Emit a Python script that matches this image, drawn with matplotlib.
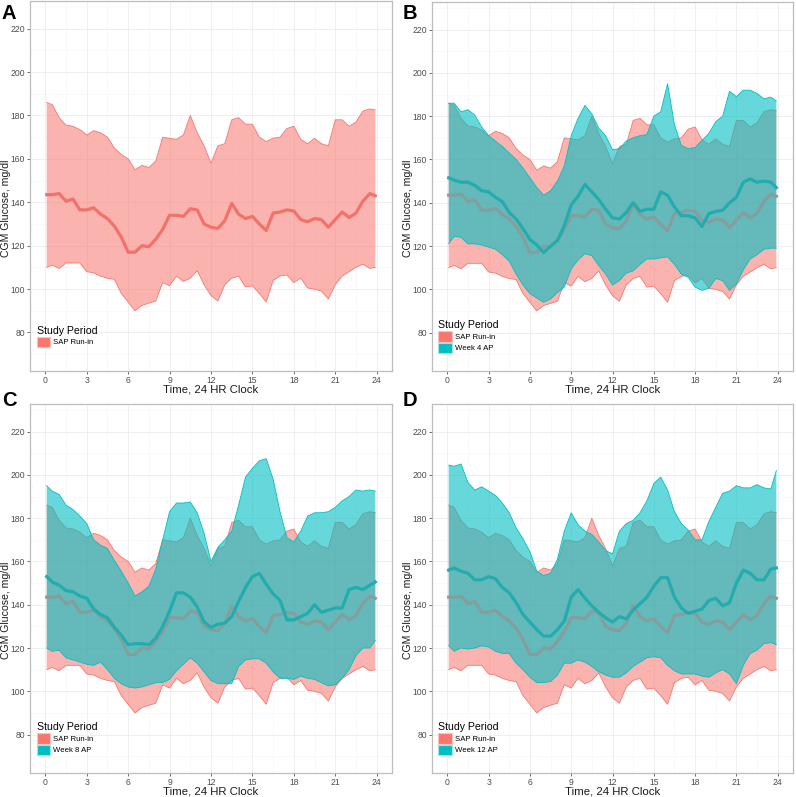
import numpy as np
import matplotlib
matplotlib.use("Agg")
import matplotlib.pyplot as plt
from matplotlib.patches import Patch
from matplotlib.ticker import MultipleLocator

plt.rcParams['font.family'] = ['Liberation Sans', 'DejaVu Sans']

# ---------------- data ----------------
hours = [0.1] + [0.5 * i for i in range(1, 48)] + [23.9]

sap_hi = [186, 185, 179, 175.5, 175, 173.5, 171, 173, 172, 170,
          165, 162, 160, 155, 157, 156, 159, 170, 169.5, 169,
          171, 180, 172, 166, 158, 166, 167, 178, 179, 176,
          176, 170, 168, 169.5, 170, 174, 175, 169, 167, 169.5,
          167, 166, 178, 178, 175, 177, 182, 183, 182.5]
sap_lo = [110, 111, 109.5, 112, 112, 112, 108, 107.5, 106, 105,
          104.5, 98, 94, 90, 92.5, 93.5, 94.5, 103, 101.5, 106,
          103.5, 105, 108.5, 102, 97, 94.5, 102, 105, 106, 101,
          101.5, 98, 94, 104, 106, 106.5, 103, 105, 100.5, 100,
          99, 95.5, 102, 106, 108, 110, 111.5, 109.5, 110]
sap_med = [143.5, 143.5, 144, 140.5, 141.5, 136.5, 136.5, 137.5, 134.5, 132.5,
           129, 124, 117, 117, 120, 119.5, 123, 127.5, 134, 134,
           133.5, 137, 136.5, 130, 128.5, 128, 131.5, 139.5, 134.5, 132.5,
           133.5, 130, 127, 135, 135.5, 136.5, 136, 132, 131, 132.5,
           132, 128.5, 132, 135.5, 133, 135, 140.5, 144, 143]

w4_hi = [186, 186, 182, 183, 180.5, 175, 171, 168.5, 166, 163,
         160, 156, 151.5, 147, 143.5, 145.5, 150, 157, 171, 179,
         185, 181, 174.5, 171, 164.5, 165, 168.5, 170, 171, 171.5,
         180, 182, 195, 176, 166.5, 165, 165.5, 168.8, 172, 177.5,
         180, 191.5, 189, 192, 192, 190.5, 188, 188.8, 187]
w4_lo = [121, 124.5, 124, 121, 121, 120.5, 119.5, 118.5, 116, 113,
         107, 102, 98, 96, 94, 95.5, 98.5, 101, 109.5, 113.5,
         116.5, 115.5, 111, 107, 102, 104, 107.5, 108.5, 111.5, 114,
         114, 114.5, 115, 111.5, 107, 105.5, 101, 99.5, 100.5, 105,
         104, 99.5, 102.5, 109, 114, 116, 118.5, 119, 119]
w4_med = [151.5, 150.5, 149.5, 149.5, 148, 145.5, 145, 142.5, 140.5, 135.5,
          132.5, 128, 123, 120.5, 117, 120, 122.5, 129.5, 139, 143,
          148.5, 145, 141.5, 137, 133, 132.5, 135.5, 140, 136, 137,
          137, 145, 143.5, 138, 134, 134, 133, 129, 135, 136,
          136.5, 140, 142.5, 149.5, 151, 149.5, 150, 149.5, 147]

w8_hi = [195, 192.5, 191, 186, 184, 181, 177.5, 170, 167.5, 166,
         160.5, 155.5, 150, 144, 146, 148.5, 156.5, 170, 183, 187,
         187, 187.5, 182.5, 173, 160, 166.5, 170, 174, 186, 199,
         203, 206.5, 207.5, 198, 183, 171, 169, 174, 181, 182.5,
         182.5, 183, 185, 188, 190, 193, 192.5, 193, 192.5]
w8_lo = [120, 118.5, 119, 115.5, 114.5, 113.5, 112.5, 112, 113.5, 110,
         106, 103.5, 102, 101.5, 102, 103, 104, 104, 105.5, 109.5,
         112.5, 115.5, 113, 109, 105, 103.5, 103.5, 103.5, 111.5, 114.5,
         115, 115, 113, 109, 106, 106, 105.5, 107, 106, 105.5,
         104, 102.5, 103, 106, 110, 116.5, 120, 120, 123.5]
w8_med = [153, 150.5, 149, 146.5, 146, 144, 143, 138, 135.5, 134,
          129.5, 126, 121.5, 122, 122, 121.5, 124.5, 130, 137, 145.5,
          145.5, 143.5, 139, 132, 129.5, 131, 131.5, 134.5, 141.5, 148,
          153, 154.5, 149.5, 145, 142, 133, 133, 134.5, 136, 140,
          136.5, 137.5, 138.5, 138.5, 147, 148, 147, 149, 150.5]

w12_hi = [204.5, 204, 205, 196.5, 193, 194.5, 192.5, 190.5, 187, 182.5,
          175.5, 170.5, 164.5, 155.5, 153.5, 154.5, 161, 174, 182.5, 177,
          174, 172.5, 169, 165, 163.5, 174, 177.5, 179, 182.5, 188,
          196, 199, 193, 183, 177.5, 174.5, 170, 170, 178.5, 185,
          191.5, 192.5, 195, 194, 194, 195.5, 194, 193.5, 202]
w12_lo = [121, 118.5, 120, 119.5, 120, 121, 120.5, 118.5, 117.5, 117.5,
          113, 110, 106.5, 104, 104, 104.5, 107.5, 113, 113, 114.5,
          113.5, 111.5, 109, 107.5, 106.5, 106.5, 108.5, 111.5, 113.5, 115.5,
          116, 115.5, 112, 109.5, 108, 108, 108, 107, 106.5, 108.5,
          110, 108, 103.5, 112, 117.5, 119, 122, 122.5, 121.5]
w12_med = [156, 157, 155.5, 154.5, 151.5, 151.5, 153, 152, 148, 145.5,
           141, 135.5, 132, 128.5, 125.5, 125.5, 128.5, 132.5, 143.5, 147,
           143, 139.5, 136.5, 134, 132, 134.5, 133.5, 137.5, 140.5, 143.5,
           148.5, 152.5, 152.5, 143.5, 138.5, 136, 137, 138, 142, 143,
           139.5, 141, 150, 156, 154.5, 151.5, 151.5, 156.5, 157]

panel_letters = ["A", "B", "C", "D"]
ap_labels = [None, "Week 4 AP", "Week 8 AP", "Week 12 AP"]
ap_data = [None, (w4_lo, w4_hi, w4_med), (w8_lo, w8_hi, w8_med), (w12_lo, w12_hi, w12_med)]
sap_label = "SAP Run-in"
x_ticks = [0, 3, 6, 9, 12, 15, 18, 21, 24]
y_ticks = [80, 100, 120, 140, 160, 180, 200, 220]

# ---------------- style ----------------
SAP_COL = "#F8766D"
SAP_LINE_UNDER = "#859E9D"
AP_COL = "#00BFC4"
AP_LINE = "#22ACAE"
SAP_ALPHA = 0.55
AP_ALPHA = 0.6

W, H = 796, 797
fig = plt.figure(figsize=(W / 100, H / 100), dpi=100)

# axes boxes in pixel coords: (left, top, right, bottom)
boxes = [(30, 1, 392, 371), (432, 2, 793, 371), (30, 404, 392, 773), (432, 404, 793, 773)]
letter_pos = [(2, 19), (403, 19), (2, 406), (403, 406)]

for i, (l, t, r, b) in enumerate(boxes):
    ax = fig.add_axes([l / W, 1 - b / H, (r - l) / W, (b - t) / H])
    ax.set_xlim(-1.11, 25.11)
    ax.set_ylim(62.25, 232.75)
    ax.set_xticks(x_ticks)
    ax.set_yticks(y_ticks)
    ax.xaxis.set_minor_locator(MultipleLocator(1.5))
    ax.yaxis.set_minor_locator(MultipleLocator(10))
    ax.grid(True, which='major', color='#EDEDED', lw=0.6)
    ax.grid(True, which='minor', color='#F6F6F6', lw=0.4)
    ax.set_axisbelow(True)
    ax.tick_params(which='minor', length=0)
    ax.tick_params(which='major', length=2.5, width=0.6, color='#555555',
                   labelsize=6.2, labelcolor='#4D4D4D', pad=1.0)
    for s in ax.spines.values():
        s.set_color('#BDBDBD')
        s.set_linewidth(0.9)

    has_ap = ap_data[i] is not None
    # SAP run-in
    ax.fill_between(hours, sap_lo, sap_hi, facecolor=SAP_COL, alpha=SAP_ALPHA,
                    edgecolor='none', zorder=2)
    ax.plot(hours, sap_hi, color=SAP_COL, lw=0.6, zorder=2.5)
    ax.plot(hours, sap_lo, color=SAP_COL, lw=0.6, zorder=2.5)
    ax.plot(hours, sap_med, color=SAP_LINE_UNDER if has_ap else "#F2726A",
            lw=2.3, zorder=4.8 if has_ap else 3)

    handles = [Patch(facecolor=SAP_COL, edgecolor='#FBC2BE', lw=0.8, label=sap_label)]
    if has_ap:
        lo, hi, med = ap_data[i]
        ax.fill_between(hours, lo, hi, facecolor=AP_COL, alpha=AP_ALPHA,
                        edgecolor='none', zorder=4)
        ax.plot(hours, hi, color=AP_COL, lw=0.6, zorder=4.5)
        ax.plot(hours, lo, color=AP_COL, lw=0.6, zorder=4.5)
        ax.plot(hours, med, color=AP_LINE, lw=2.3, zorder=5)
        handles.append(Patch(facecolor=AP_COL, edgecolor='#9FE3E5', lw=0.8, label=ap_labels[i]))

    leg_y = 0.064 if len(handles) == 1 else 0.048
    ax.legend(handles=handles, loc='lower left', bbox_to_anchor=(0.018, leg_y),
              frameon=False, title="Study Period", title_fontsize=7.6,
              fontsize=5.6, handlelength=1.75, handleheight=1.75,
              labelspacing=0.1, handletextpad=0.35, borderpad=0,
              borderaxespad=0, alignment='left')

    ax.set_xlabel("Time, 24 HR Clock", fontsize=8.2, color='#1A1A1A')
    ax.set_ylabel("CGM Glucose, mg/dl", fontsize=7.6, color='#1A1A1A')
    ax.xaxis.set_label_coords(0.5, -0.036)
    ax.yaxis.set_label_coords(-0.052, 0.44)

    lx, ly = letter_pos[i]
    fig.text(lx / W, 1 - ly / H, panel_letters[i], fontsize=14.5, fontweight='bold',
             ha='left', va='baseline')

fig.savefig("out.png", dpi=100)
